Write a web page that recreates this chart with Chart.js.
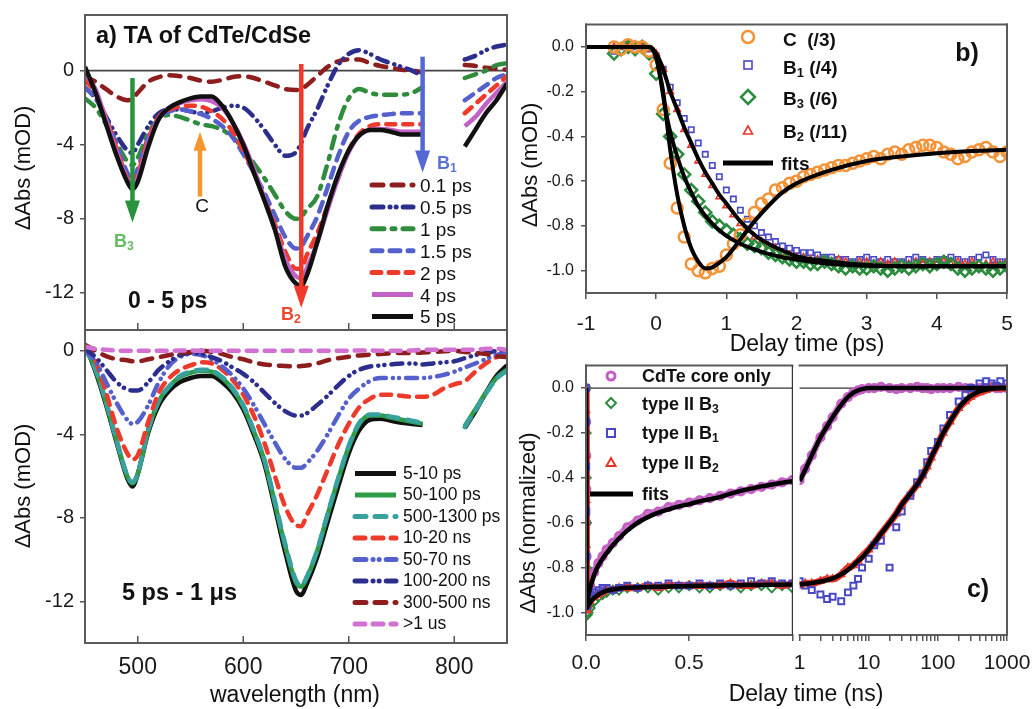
<!DOCTYPE html>
<html><head><meta charset="utf-8">
<script src="https://cdn.jsdelivr.net/npm/chart.js@4.4.1/dist/chart.umd.min.js"></script>
<style>
html,body{margin:0;padding:0;background:#fff;}
body{width:1034px;height:709px;position:relative;overflow:hidden;font-family:"Liberation Sans",Arial,Helvetica,sans-serif;color:#111;}
canvas{position:absolute;}
.t{position:absolute;white-space:pre;line-height:1;transform:translateY(-50%);}
.cc{transform:translate(-50%,-50%);}
.rot{transform:translate(-50%,-50%) rotate(-90deg);}
.b{font-weight:bold;}
sub{font-size:68%;vertical-align:-0.28em;line-height:0;}
#ov{position:absolute;left:0;top:0;}
</style></head><body>
<canvas id="cA1"></canvas><canvas id="cA2"></canvas><canvas id="cB"></canvas><canvas id="cC1"></canvas><canvas id="cC2"></canvas>
<svg id="ov" width="1034" height="709"></svg>
<script>
// ---------------- DATA ----------------
// Panel a: wavelengths (nm)
const WL = [450,460,470,480,490,495,500,510,520,530,540,550,560,570,580,590,600,610,620,630,640,650,655,660,670,680,690,700,710,720,730,740,750,760,770,780,790,800,810,820,830,840,850];
// top (0-5 ps) spectra, mOD
const A_0p1 = [-0.3,-0.6,-1.0,-1.4,-1.6,-1.5,-1.2,-0.6,-0.35,-0.25,-0.3,-0.4,-0.55,-0.6,-0.5,-0.35,-0.3,-0.4,-0.6,-0.8,-1.0,-1.05,-1.0,-0.8,-0.3,0.2,0.5,0.6,0.6,0.4,0.25,0.15,0.05,0.0,-0.1,null,null,null,0.3,0.25,0.15,0.1,0.05];
const A_0p5 = [-0.9,-1.5,-2.5,-3.5,-4.3,-4.45,-4.0,-3.0,-2.3,-2.1,-2.1,-2.2,-2.3,-2.2,-2.0,-1.9,-2.0,-2.5,-3.2,-4.0,-4.6,-4.4,-3.9,-3.2,-2.1,-0.8,0.3,0.9,1.1,0.9,0.6,0.4,0.2,0.0,-0.3,null,null,null,0.6,0.8,1.1,1.3,1.4];
const A_1 = [-1.5,-2.0,-2.9,-3.9,-4.9,-5.1,-4.7,-3.4,-2.6,-2.4,-2.5,-2.7,-2.9,-3.0,-3.2,-3.6,-4.2,-5.0,-5.8,-6.7,-7.6,-8.0,-7.9,-7.5,-6.8,-5.0,-2.9,-1.5,-1.0,-1.2,-1.3,-1.3,-1.3,-1.2,-0.9,null,null,null,-0.4,-0.2,0.0,0.3,0.4];
const A_1p5 = [-0.9,-1.5,-2.6,-4.0,-5.5,-5.9,-5.3,-3.6,-2.6,-2.2,-2.1,-2.2,-2.35,-2.6,-3.0,-3.6,-4.5,-5.5,-6.6,-7.8,-9.0,-9.6,-9.5,-9.0,-7.9,-6.3,-4.6,-3.3,-2.7,-2.5,-2.4,-2.35,-2.3,-2.3,-2.3,null,null,null,-1.6,-1.2,-0.8,-0.4,-0.2];
const A_2 = [-0.5,-1.2,-2.6,-4.2,-5.8,-6.2,-5.6,-3.7,-2.5,-2.1,-1.95,-1.9,-1.95,-2.2,-2.6,-3.3,-4.3,-5.5,-6.9,-8.3,-9.8,-10.7,-10.7,-10.0,-8.8,-7.3,-5.8,-4.3,-3.4,-3.0,-2.9,-2.9,-2.9,-2.9,-2.9,null,null,null,-2.3,-1.8,-1.3,-0.8,-0.3];
const A_4 = [-0.2,-1.0,-2.7,-4.4,-5.9,-6.3,-5.8,-3.9,-2.6,-2.0,-1.75,-1.6,-1.55,-1.65,-2.0,-2.8,-3.9,-5.3,-6.9,-8.5,-10.2,-11.1,-11.2,-10.7,-9.3,-7.5,-5.8,-4.4,-3.5,-3.2,-3.15,-3.2,-3.3,-3.3,-3.3,null,null,null,-3.0,-2.5,-1.8,-1.2,-0.6];
const A_5 = [0.2,-1.2,-2.9,-4.6,-6.0,-6.4,-6.0,-4.1,-2.6,-2.0,-1.7,-1.5,-1.4,-1.4,-1.9,-2.8,-4.0,-5.5,-7.0,-8.6,-10.6,-11.5,-11.6,-11.1,-9.3,-7.3,-5.6,-4.3,-3.5,-3.2,-3.2,-3.3,-3.45,-3.45,-3.45,null,null,null,-4.1,-3.2,-2.3,-1.6,-0.7];
// bottom (5 ps - 1 us) spectra, mOD
const L_5_10ps = [0.3,-1.0,-2.6,-4.4,-6.1,-6.5,-5.9,-3.9,-2.6,-1.9,-1.5,-1.3,-1.2,-1.2,-1.5,-2.0,-2.8,-4.0,-5.4,-7.5,-9.7,-11.5,-11.7,-11.2,-9.9,-8.2,-6.5,-4.9,-3.8,-3.3,-3.25,-3.35,-3.45,-3.5,-3.55,null,null,null,-3.7,-2.9,-2.0,-1.2,-0.7];
const L_50_100ps = [0.2,-0.9,-2.5,-4.3,-6.0,-6.35,-5.9,-3.8,-2.4,-1.7,-1.25,-1.05,-0.95,-1.0,-1.3,-1.85,-2.65,-3.85,-5.25,-7.3,-9.4,-11.1,-11.3,-10.9,-9.6,-7.85,-6.15,-4.6,-3.5,-3.1,-3.1,-3.2,-3.3,-3.4,-3.5,null,null,null,-3.6,-2.8,-2.0,-1.3,-0.9];
const L_500_1300ps = [0.15,-0.9,-2.45,-4.3,-5.95,-6.3,-5.85,-3.75,-2.4,-1.7,-1.2,-1.0,-0.9,-0.95,-1.25,-1.8,-2.6,-3.8,-5.2,-7.2,-9.3,-11.0,-11.25,-10.85,-9.55,-7.8,-6.1,-4.55,-3.45,-3.05,-3.05,-3.15,-3.25,-3.35,-3.45,null,null,null,-3.65,-2.85,-2.05,-1.35,-0.95];
const L_10_20ns = [0.2,-0.5,-2.0,-3.7,-4.9,-5.2,-5.0,-3.4,-2.0,-1.3,-0.9,-0.7,-0.55,-0.6,-0.9,-1.4,-2.1,-3.1,-4.4,-6.0,-7.5,-8.35,-8.4,-7.9,-6.9,-5.7,-4.5,-3.5,-2.7,-2.3,-2.1,-2.1,-2.15,-2.2,-2.2,-2.1,-1.8,-1.6,-1.45,-1.0,-0.6,-0.3,-0.1];
const L_50_70ns = [0.0,-0.5,-1.5,-2.5,-3.3,-3.5,-3.4,-2.6,-1.5,-0.7,-0.3,-0.15,-0.2,-0.4,-0.75,-1.2,-1.8,-2.6,-3.5,-4.4,-5.2,-5.6,-5.6,-5.4,-4.8,-4.0,-3.1,-2.3,-1.8,-1.45,-1.3,-1.3,-1.3,-1.3,-1.3,-1.25,-1.15,-1.0,-0.8,-0.6,-0.4,-0.2,-0.05];
const L_100_200ns = [0.1,-0.3,-0.9,-1.5,-1.85,-1.9,-1.9,-1.5,-0.9,-0.5,-0.2,-0.1,-0.15,-0.3,-0.5,-0.8,-1.1,-1.5,-2.0,-2.5,-2.9,-3.1,-3.1,-3.0,-2.6,-2.15,-1.65,-1.2,-0.9,-0.75,-0.7,-0.65,-0.6,-0.6,-0.65,-0.6,-0.55,-0.5,-0.35,-0.2,-0.1,0.0,0.05];
const L_300_500ns = [0.3,0.0,-0.25,-0.4,-0.45,-0.5,-0.5,-0.4,-0.3,-0.2,-0.1,-0.05,0.0,-0.05,-0.15,-0.3,-0.4,-0.55,-0.65,-0.7,-0.72,-0.75,-0.73,-0.7,-0.6,-0.45,-0.35,-0.28,-0.22,-0.18,-0.15,-0.12,-0.1,-0.1,-0.08,-0.05,-0.02,0.0,-0.05,-0.1,-0.15,-0.25,-0.3];
const L_gt1us = [0.2,0.1,0.05,0.02,0.0,0.0,0.0,0.0,0.0,0.0,0.02,0.02,0.0,0.0,0.0,0.0,0.0,0.0,0.0,0.0,0.0,0.0,0.0,0.0,0.0,0.0,0.0,0.0,0.02,0.02,0.0,0.0,0.0,0.02,0.05,0.05,0.05,0.05,0.05,0.05,0.1,0.1,0.05];
const A_X_TICKS = [500,600,700,800];
const A_X_LABELS = ['500','600','700','800'];
const A_Y_TICKS = [0,-4,-8,-12];
const A_Y_LABELS = ['0','-4','-8','-12'];

// Panel b: delay time (ps)
const T_B = [-0.6,-0.5,-0.4,-0.3,-0.2,-0.1,0.0,0.1,0.2,0.3,0.4,0.5,0.6,0.7,0.8,0.9,1.0,1.1,1.2,1.3,1.4,1.5,1.6,1.7,1.8,1.9,2.0,2.1,2.2,2.3,2.4,2.5,2.6,2.7,2.8,2.9,3.0,3.1,3.2,3.3,3.4,3.5,3.6,3.7,3.8,3.9,4.0,4.1,4.2,4.3,4.4,4.5,4.6,4.7,4.8,4.9,5.0];
const B_C = [0.0,-0.01,0.01,0.0,0.0,-0.02,-0.08,-0.28,-0.52,-0.72,-0.85,-0.97,-1.0,-1.01,-0.99,-0.98,-0.93,-0.88,-0.84,-0.79,-0.74,-0.7,-0.68,-0.64,-0.63,-0.61,-0.6,-0.58,-0.57,-0.56,-0.55,-0.54,-0.53,-0.53,-0.52,-0.51,-0.5,-0.49,-0.5,-0.48,-0.47,-0.48,-0.46,-0.45,-0.44,-0.44,-0.45,-0.47,-0.48,-0.5,-0.49,-0.47,-0.46,-0.45,-0.47,-0.49,-0.47];
const B_B1 = [-0.02,0.0,0.01,0.0,0.0,-0.01,-0.04,-0.1,-0.18,-0.25,-0.32,-0.37,-0.43,-0.48,-0.53,-0.58,-0.64,-0.68,-0.73,-0.77,-0.8,-0.83,-0.85,-0.87,-0.89,-0.9,-0.91,-0.92,-0.92,-0.93,-0.94,-0.94,-0.95,-0.95,-0.96,-0.95,-0.94,-0.95,-0.96,-0.95,-0.96,-0.96,-0.95,-0.94,-0.95,-0.96,-0.95,-0.95,-0.94,-0.95,-0.96,-0.95,-0.94,-0.93,-0.95,-0.96,-0.96];
const B_B3 = [-0.03,-0.01,0.0,-0.01,0.0,-0.03,-0.12,-0.3,-0.4,-0.48,-0.57,-0.64,-0.69,-0.74,-0.78,-0.8,-0.82,-0.84,-0.86,-0.88,-0.89,-0.9,-0.92,-0.93,-0.94,-0.95,-0.96,-0.96,-0.97,-0.97,-0.96,-0.97,-0.98,-0.99,-0.98,-0.99,-0.99,-0.98,-0.99,-1.0,-0.99,-0.98,-0.99,-0.98,-0.97,-0.98,-0.97,-0.96,-0.97,-0.99,-1.0,-0.99,-0.98,-0.99,-1.0,-0.99,-0.98];
const B_B2 = [0.0,0.0,0.0,0.01,0.0,-0.01,-0.03,-0.1,-0.2,-0.28,-0.37,-0.44,-0.51,-0.57,-0.62,-0.67,-0.71,-0.75,-0.79,-0.82,-0.85,-0.87,-0.89,-0.9,-0.92,-0.93,-0.94,-0.94,-0.95,-0.95,-0.96,-0.96,-0.95,-0.96,-0.97,-0.96,-0.96,-0.97,-0.96,-0.97,-0.96,-0.97,-0.97,-0.96,-0.97,-0.96,-0.97,-0.96,-0.97,-0.96,-0.97,-0.96,-0.97,-0.97,-0.96,-0.97,-0.96];
const TF_B = [-1,-0.5,-0.2,-0.1,-0.05,0,0.05,0.1,0.15,0.2,0.3,0.4,0.5,0.6,0.7,0.8,0.9,1.0,1.2,1.4,1.6,1.8,2.0,2.5,3.0,3.5,4.0,4.5,5.0];
const FIT_C = [0,0,0,0,-0.01,-0.05,-0.12,-0.2,-0.33,-0.46,-0.66,-0.8,-0.9,-0.96,-0.99,-0.985,-0.965,-0.94,-0.86,-0.78,-0.71,-0.65,-0.61,-0.55,-0.51,-0.49,-0.475,-0.465,-0.46];
const FIT_B3 = [0,0,0,0,-0.01,-0.04,-0.12,-0.22,-0.31,-0.38,-0.49,-0.58,-0.65,-0.71,-0.755,-0.79,-0.82,-0.845,-0.88,-0.905,-0.925,-0.94,-0.95,-0.97,-0.978,-0.98,-0.98,-0.98,-0.98];
const FIT_B12 = [0,0,0,0,-0.01,-0.03,-0.06,-0.1,-0.15,-0.2,-0.28,-0.36,-0.43,-0.5,-0.56,-0.61,-0.66,-0.7,-0.78,-0.84,-0.88,-0.91,-0.935,-0.96,-0.975,-0.98,-0.98,-0.98,-0.98];
const B_X_TICKS = [-1,0,1,2,3,4,5];
const B_X_LABELS = ['-1','0','1','2','3','4','5'];
const BC_Y_TICKS = [0,-0.2,-0.4,-0.6,-0.8,-1.0];
const BC_Y_LABELS = ['0.0','-0.2','-0.4','-0.6','-0.8','-1.0'];

// Panel c: delay time (ns), linear part 0-1 ns and log part 1-1000 ns
const CT_LIN = [0,0.0005,0.001,0.0015,0.002,0.0025,0.003,0.004,0.006,0.01,0.02,0.04,0.06,0.08,0.1,0.13,0.16,0.2,0.25,0.3,0.35,0.4,0.45,0.5,0.55,0.6,0.65,0.7,0.75,0.8,0.85,0.9,0.95,1.0];
const C_CORE_LIN = [0,-0.15,-0.3,-0.45,-0.6,-0.75,-0.88,-0.95,-0.96,-0.93,-0.88,-0.82,-0.78,-0.75,-0.72,-0.69,-0.66,-0.62,-0.59,-0.56,-0.55,-0.53,-0.52,-0.51,-0.5,-0.49,-0.48,-0.47,-0.46,-0.45,-0.44,-0.43,-0.42,-0.41];
const C_B3_LIN = [0,-0.2,-0.4,-0.6,-0.8,-0.92,-0.98,-1.0,-1.01,-1.0,-0.98,-0.95,-0.93,-0.92,-0.91,-0.9,-0.9,-0.89,-0.89,-0.89,-0.9,-0.89,-0.89,-0.88,-0.89,-0.89,-0.88,-0.88,-0.89,-0.88,-0.88,-0.89,-0.88,-0.89];
const C_B1_LIN = [0,-0.15,-0.35,-0.55,-0.75,-0.9,-0.95,-0.97,-0.97,-0.95,-0.92,-0.91,-0.9,-0.89,-0.89,-0.9,-0.89,-0.88,-0.89,-0.88,-0.88,-0.87,-0.88,-0.88,-0.87,-0.88,-0.87,-0.88,-0.87,-0.86,-0.87,-0.86,-0.87,-0.87];
const C_B2_LIN = [0,-0.1,-0.3,-0.5,-0.7,-0.88,-0.96,-0.99,-0.99,-0.97,-0.95,-0.93,-0.92,-0.91,-0.9,-0.9,-0.89,-0.89,-0.89,-0.88,-0.89,-0.88,-0.88,-0.88,-0.88,-0.88,-0.88,-0.87,-0.88,-0.88,-0.87,-0.87,-0.88,-0.87];
const FIT_CORE_LIN = [0,-0.2,-0.4,-0.6,-0.8,-0.9,-0.95,-0.96,-0.95,-0.93,-0.89,-0.83,-0.79,-0.76,-0.735,-0.7,-0.67,-0.635,-0.6,-0.575,-0.555,-0.54,-0.527,-0.517,-0.505,-0.495,-0.485,-0.47,-0.458,-0.448,-0.438,-0.43,-0.422,-0.415];
const FIT_II_LIN = [0,-0.2,-0.4,-0.6,-0.8,-0.93,-0.97,-0.98,-0.975,-0.97,-0.955,-0.935,-0.92,-0.91,-0.903,-0.897,-0.893,-0.89,-0.888,-0.886,-0.885,-0.884,-0.883,-0.882,-0.881,-0.88,-0.879,-0.878,-0.878,-0.877,-0.877,-0.876,-0.876,-0.875];
const CT_LOG = [1,1.2,1.5,2,2.5,3,4,5,6,7,8,10,12,15,20,25,30,40,50,60,70,80,100,120,150,200,250,300,400,500,600,700,800,1000];
const C_CORE_LOG = [-0.41,-0.36,-0.3,-0.22,-0.17,-0.13,-0.07,-0.04,-0.02,-0.01,-0.005,0.0,0.0,0.005,0.0,-0.005,0.0,0.0,0.005,0.0,0.0,-0.005,0.0,0.0,0.0,0.005,0.0,0.0,0.0,0.0,0.005,0.0,0.0,0.0];
const C_B1_LOG = [-0.86,-0.88,-0.9,-0.92,-0.94,-0.93,-0.95,-0.91,-0.88,-0.85,-0.8,-0.76,-0.7,-0.68,-0.8,-0.62,-0.55,-0.48,-0.42,-0.38,-0.33,-0.28,-0.24,-0.18,-0.12,-0.06,-0.03,0.0,0.02,0.03,0.02,0.01,0.03,0.02];
const C_B2_LOG = [-0.88,-0.87,-0.87,-0.86,-0.85,-0.85,-0.83,-0.8,-0.79,-0.77,-0.75,-0.72,-0.69,-0.65,-0.6,-0.56,-0.52,-0.47,-0.43,-0.39,-0.35,-0.31,-0.25,-0.2,-0.15,-0.09,-0.06,-0.04,-0.02,-0.01,0.0,0.0,0.0,0.0];
const FIT_CORE_LOG = [-0.415,-0.365,-0.3,-0.22,-0.17,-0.13,-0.075,-0.04,-0.02,-0.01,-0.005,0,0,0,0,0,0,0,0,0,0,0,0,0,0,0,0,0,0,0,0,0,0,0];
const FIT_II_LOG = [-0.875,-0.872,-0.868,-0.862,-0.855,-0.848,-0.83,-0.81,-0.79,-0.77,-0.755,-0.72,-0.69,-0.65,-0.6,-0.56,-0.52,-0.47,-0.43,-0.39,-0.35,-0.31,-0.25,-0.2,-0.15,-0.09,-0.055,-0.035,-0.015,-0.007,-0.003,-0.001,0,0];
const C_LIN_TICKS = [0,0.5,1];
const C_LIN_LABELS = ['0.0','0.5',''];
const C_LOG_TICKS = [1,10,100,1000];
const C_LOG_LABELS = ['1','10','100','1000'];

// ---------------- STYLES ----------------
const FONT = '"Liberation Sans", Arial, Helvetica, sans-serif';
Chart.defaults.font.family = FONT;
Chart.defaults.color = '#1a1a1a';

const TOP_SERIES = [
  {name:'0.1 ps', v:A_0p1, c:'#8E1D1D', w:4.5, d:[11,9]},
  {name:'0.5 ps', v:A_0p5, c:'#2C2E8E', w:4.5, d:[11,7,0.1,6,0.1,7]},
  {name:'1 ps',   v:A_1,   c:'#2E8C3C', w:4.5, d:[12,8,3,8]},
  {name:'1.5 ps', v:A_1p5, c:'#5461CC', w:4.5, d:[10,8]},
  {name:'2 ps',   v:A_2,   c:'#EE3A2A', w:4.5, d:[9,8]},
  {name:'4 ps',   v:A_4,   c:'#C262C6', w:4.5, d:[]},
  {name:'5 ps',   v:A_5,   c:'#111111', w:4.5, d:[]}
];
const BOT_SERIES = [
  {name:'5-10 ps',     v:L_5_10ps,     c:'#111111', w:4.5, d:[]},
  {name:'50-100 ps',   v:L_50_100ps,   c:'#2E9B46', w:4.5, d:[]},
  {name:'500-1300 ps', v:L_500_1300ps, c:'#37A19E', w:4.5, d:[11,9]},
  {name:'10-20 ns',    v:L_10_20ns,    c:'#EE3A2A', w:4.5, d:[10,8]},
  {name:'50-70 ns',    v:L_50_70ns,    c:'#5461CC', w:4.5, d:[11,7,0.1,6,0.1,7]},
  {name:'100-200 ns',  v:L_100_200ns,  c:'#2C2E8E', w:4.5, d:[11,7,0.1,6,0.1,7]},
  {name:'300-500 ns',  v:L_300_500ns,  c:'#8E1D1D', w:4.5, d:[11,9]},
  {name:'>1 us',       v:L_gt1us,      c:'#D271D2', w:4.5, d:[10,8]}
];
const COL = {C:'#F39237', B1:'#4848C4', B3:'#2A8C3C', B2:'#E8362A', core:'#C45FC4', fit:'#000'};

// ---------------- HELPERS ----------------
const pts = (xs, ys) => xs.map((x, i) => ({x: x, y: ys[i]}));

function decor(cfg) {
  return {
    id: 'decor',
    beforeDatasetsDraw(chart) {
      const {ctx, chartArea: a, scales} = chart;
      (cfg.hlines || []).forEach(h => {
        const y = scales.y.getPixelForValue(h.v);
        ctx.save(); ctx.strokeStyle = h.c; ctx.lineWidth = h.w;
        ctx.beginPath(); ctx.moveTo(a.left, y); ctx.lineTo(a.right, y); ctx.stroke(); ctx.restore();
      });
    },
    afterDatasetsDraw(chart) {
      const {ctx, chartArea: a, scales} = chart;
      ctx.save();
      (cfg.arrows || []).forEach(ar => {
        const x = scales.x.getPixelForValue(ar.x);
        const y1 = scales.y.getPixelForValue(ar.from);
        const y2 = scales.y.getPixelForValue(ar.to);
        const dir = Math.sign(y2 - y1), hl = ar.hl || 22, hw = ar.hw || 7.5;
        ctx.strokeStyle = ar.c; ctx.fillStyle = ar.c; ctx.lineWidth = ar.w || 4.5; ctx.lineCap = 'butt';
        ctx.beginPath(); ctx.moveTo(x, y1); ctx.lineTo(x, y2 - dir * hl + dir); ctx.stroke();
        ctx.beginPath(); ctx.moveTo(x - hw, y2 - dir * hl); ctx.lineTo(x + hw, y2 - dir * hl); ctx.lineTo(x, y2); ctx.closePath(); ctx.fill();
      });
      if (cfg.inner) {
        ctx.strokeStyle = '#555'; ctx.lineWidth = 1.5;
        cfg.inner.forEach(v => {
          const x = scales.x.getPixelForValue(v);
          ctx.beginPath(); ctx.moveTo(x, a.bottom); ctx.lineTo(x, a.bottom - 7); ctx.stroke();
        });
      }
      const seg = (x1, y1, x2, y2) => { ctx.beginPath(); ctx.moveTo(x1, y1); ctx.lineTo(x2, y2); ctx.stroke(); };
      ctx.strokeStyle = '#5a5a5a'; ctx.lineWidth = 2; ctx.lineCap = 'square';
      const s = cfg.sides || 'ltrb';
      if (s.includes('t')) seg(a.left, a.top, a.right, a.top);
      if (s.includes('b')) seg(a.left, a.bottom, a.right, a.bottom);
      if (s.includes('l')) seg(a.left, a.top, a.left, a.bottom);
      if (s.includes('r')) seg(a.right, a.top, a.right, a.bottom);
      if (cfg.thinRight) { ctx.strokeStyle = '#333'; ctx.lineWidth = 1.2; ctx.lineCap = 'butt'; seg(a.right, a.top, a.right, a.bottom); }
      ctx.restore();
    }
  };
}

function yScale(o) {
  return {
    type: 'linear', min: o.min, max: o.max, display: o.display !== false,
    afterBuildTicks: s => { s.ticks = o.ticks.map(v => ({value: v})); },
    afterFit: s => { s.width = o.w; s.paddingTop = 0; s.paddingBottom = 0; },
    ticks: {padding: o.pad, color: '#1a1a1a', font: {size: o.fs}, callback: (v, i) => o.labels[i]},
    grid: {drawOnChartArea: false, drawTicks: true, tickLength: 5, color: '#555', lineWidth: 1.5},
    border: {display: false}
  };
}
function xScale(o) {
  return {
    type: o.type || 'linear', min: o.min, max: o.max, position: 'bottom',
    afterBuildTicks: s => { s.ticks = o.ticks.map(v => ({value: v})); },
    afterFit: s => { s.height = o.h; s.paddingLeft = 0; s.paddingRight = 0; },
    ticks: {display: o.show !== false, autoSkip: false, maxRotation: 0, minRotation: 0, padding: o.pad, color: '#1a1a1a', font: {size: o.fs}, callback: (v, i) => o.fmt(v, i)},
    grid: {drawOnChartArea: false, drawTicks: o.drawTicks !== false, tickLength: 6, color: '#555', lineWidth: 1.5},
    border: {display: false}
  };
}

function makeChart(id, g, datasets, scales, deco) {
  const cv = document.getElementById(id);
  const w = g.padL + g.yw + g.pw + g.padR, h = g.padT + g.ph + g.xh + g.padB;
  cv.width = w; cv.height = h;
  cv.style.left = (g.pl - g.yw - g.padL) + 'px';
  cv.style.top = (g.pt - g.padT) + 'px';
  cv.style.width = w + 'px'; cv.style.height = h + 'px';
  return new Chart(cv, {
    type: 'scatter',
    data: {datasets},
    options: {
      responsive: false, animation: false, devicePixelRatio: 1, events: [],
      layout: {padding: {left: g.padL, top: g.padT, right: g.padR, bottom: g.padB}},
      plugins: {legend: {display: false}, tooltip: {enabled: false}},
      scales
    },
    plugins: [decor(deco)]
  });
}

function lineSet(s, i, n, xs) {
  return {
    label: s.name, data: pts(xs, s.v), showLine: true, pointRadius: 0,
    borderColor: s.c, borderWidth: s.w, borderDash: s.d, borderCapStyle: s.d.length ? 'round' : 'butt',
    borderJoinStyle: 'round', cubicInterpolationMode: 'monotone', spanGaps: false, order: n - i
  };
}

// ---------------- PANEL a ----------------
makeChart('cA1', {pl:85, pt:15, pw:422, ph:315, yw:50, xh:0, padL:2, padT:4, padR:4, padB:3},
  TOP_SERIES.map((s, i) => lineSet(s, i, TOP_SERIES.length, WL)),
  {
    x: xScale({min:450, max:850, ticks:A_X_TICKS, h:0, pad:0, fs:22, show:false, drawTicks:false, fmt:(v,i)=>''}),
    y: yScale({min:-14, max:3, ticks:A_Y_TICKS, labels:A_Y_LABELS, w:50, pad:6, fs:20})
  },
  {hlines:[{v:0, c:'#444', w:1.6}], inner:A_X_TICKS,
   arrows:[{x:495, from:-0.4, to:-8.2, c:'#27933F'}, {x:559, from:-6.8, to:-3.3, c:'#F5962E', hl:19, hw:6.5},
           {x:655, from:0.35, to:-12.8, c:'#F0392B'}, {x:770, from:0.75, to:-5.5, c:'#5468D4'}]});

makeChart('cA2', {pl:85, pt:330, pw:422, ph:313, yw:50, xh:46, padL:2, padT:2, padR:20, padB:2},
  BOT_SERIES.map((s, i) => lineSet(s, i, BOT_SERIES.length, WL)),
  {
    x: xScale({min:450, max:850, ticks:A_X_TICKS, h:46, pad:11, fs:23, drawTicks:false, fmt:(v,i)=>A_X_LABELS[i]}),
    y: yScale({min:-14, max:1, ticks:A_Y_TICKS, labels:A_Y_LABELS, w:50, pad:6, fs:20})
  },
  {inner:A_X_TICKS});

// ---------------- PANEL b ----------------
const mk = (label, xs, ys, style, r, bw, c, ord) => ({label, data: pts(xs, ys), pointStyle: style, pointRadius: r, borderWidth: bw, pointBorderColor: c, borderColor: c, backgroundColor: 'rgba(0,0,0,0)', pointBackgroundColor: 'rgba(0,0,0,0)', order: ord});
const fit = (label, xs, ys, w) => ({label, data: pts(xs, ys), showLine: true, pointRadius: 0, borderColor: COL.fit, borderWidth: w || 4, cubicInterpolationMode: 'monotone', order: 0});

makeChart('cB', {pl:586, pt:20, pw:421, ph:273, yw:55, xh:48, padL:2, padT:4, padR:14, padB:2},
  [
    fit('fit C', TF_B, FIT_C), fit('fit B3', TF_B, FIT_B3), fit('fit B1 B2', TF_B, FIT_B12),
    mk('C (/3)', T_B, B_C, 'circle', 5.5, 2.5, COL.C, 2),
    mk('B3 (/6)', T_B, B_B3, 'rectRot', 6, 2.5, COL.B3, 3),
    mk('B2 (/11)', T_B, B_B2, 'triangle', 3.8, 1.6, COL.B2, 4),
    mk('B1 (/4)', T_B, B_B1, 'rect', 3.8, 1.6, COL.B1, 5)
  ],
  {
    x: xScale({min:-1, max:5, ticks:B_X_TICKS, h:48, pad:13, fs:21, fmt:(v,i)=>B_X_LABELS[i]}),
    y: yScale({min:-1.1, max:0.1, ticks:BC_Y_TICKS, labels:BC_Y_LABELS, w:55, pad:7, fs:16})
  }, {});

// ---------------- PANEL c ----------------
const band = (label, xs, ys, c, w, ord) => ({label, data: pts(xs, ys), showLine: true, pointRadius: 0, borderColor: c, borderWidth: w, cubicInterpolationMode: 'monotone', order: ord});
const cSets = (xs, core, b3, b1, b2, fcore, fii) => {
  const s = [
    fit('fit core', xs, fcore, 4.5), fit('fit type II', xs, fii, 4.5),
    mk('type II B1', xs, b1, 'rect', 4.2, 2, COL.B1, 2),
    mk('type II B2', xs, b2, 'triangle', 3.8, 1.8, COL.B2, 3),
    band('B2 band', xs, b2, COL.B2, 7, 4),
    mk('CdTe core only', xs, core, 'circle', 3.8, 2.6, COL.core, 6),
    band('core band', xs, core, '#CF76CF', 7, 7)
  ];
  if (b3) s.push(mk('type II B3', xs, b3, 'rectRot', 4.5, 2, COL.B3, 5));
  return s;
};
const LOG_MINOR = [2,3,4,5,6,7,8,9,20,30,40,50,60,70,80,90,200,300,400,500,600,700,800,900];
const C_LOG_ALL = C_LOG_TICKS.concat(LOG_MINOR).sort((a, b) => a - b);

makeChart('cC1', {pl:586, pt:363, pw:210, ph:272, yw:55, xh:46, padL:2, padT:4, padR:3, padB:2},
  cSets(CT_LIN, C_CORE_LIN, C_B3_LIN, C_B1_LIN, C_B2_LIN, FIT_CORE_LIN, FIT_II_LIN),
  {
    x: xScale({min:0, max:1, ticks:C_LIN_TICKS, h:46, pad:10, fs:21, fmt:(v,i)=>C_LIN_LABELS[i]}),
    y: yScale({min:-1.1, max:0.1, ticks:BC_Y_TICKS, labels:BC_Y_LABELS, w:55, pad:7, fs:16})
  },
  {sides:'ltb', thinRight:true, hlines:[{v:0, c:'#333', w:1.2}]});

makeChart('cC2', {pl:796, pt:363, pw:211, ph:272, yw:0, xh:46, padL:3, padT:4, padR:25, padB:2},
  cSets(CT_LOG, C_CORE_LOG, null, C_B1_LOG, C_B2_LOG, FIT_CORE_LOG, FIT_II_LOG),
  {
    x: xScale({type:'logarithmic', min:1, max:1000, ticks:C_LOG_ALL, h:46, pad:10, fs:21,
               fmt:(v,i)=>{ const k = C_LOG_TICKS.indexOf(C_LOG_ALL[i]); return k >= 0 ? C_LOG_LABELS[k] : ''; }}),
    y: yScale({min:-1.1, max:0.1, ticks:BC_Y_TICKS, labels:BC_Y_LABELS, w:0, pad:7, fs:16, display:false})
  },
  {sides:'trb', hlines:[{v:0, c:'#333', w:1.2}]});

// ---------------- TEXT & LEGENDS ----------------
const svg = document.getElementById('ov');
const NS = 'http://www.w3.org/2000/svg';
function sv(tag, attrs) { const e = document.createElementNS(NS, tag); for (const k in attrs) e.setAttribute(k, attrs[k]); svg.appendChild(e); return e; }
function txt(x, y, html, cls, style) {
  const d = document.createElement('div'); d.className = 't ' + (cls || '');
  d.style.left = x + 'px'; d.style.top = y + 'px'; Object.assign(d.style, style || {});
  d.innerHTML = html; document.body.appendChild(d); return d;
}
const esc = s => s.replace(/&/g,'&amp;').replace(/</g,'&lt;').replace(/>/g,'&gt;');

// panel a legends
function lineLegend(series, x1, x2, xt, y0, dy, fs) {
  series.forEach((s, i) => {
    const y = y0 + i * dy;
    sv('line', {x1, y1: y, x2, y2: y, stroke: s.c, 'stroke-width': 5, 'stroke-dasharray': s.d.length ? s.d.join(' ') : 'none', 'stroke-linecap': s.d.length ? 'round' : 'butt'});
    txt(xt, y, esc(s.name), '', {fontSize: fs + 'px'});
  });
}
lineLegend(TOP_SERIES, 372, 413, 420, 185, 21.9, 19);
lineLegend(BOT_SERIES, 355, 396, 403, 473.5, 21.5, 17.5);

// panel a titles / annotations
txt(96, 36, 'a) TA of CdTe/CdSe', 'b', {fontSize: '23.5px'});
txt(128, 300, '0 - 5 ps', 'b', {fontSize: '23px'});
txt(122, 593, '5 ps - 1 \u03bcs', 'b', {fontSize: '23.5px'});
txt(202, 205, 'C', 'cc', {fontSize: '19px'});
txt(124, 241, 'B<sub>3</sub>', 'cc b', {fontSize: '18px', color: '#63BC63'});
txt(291, 314, 'B<sub>2</sub>', 'cc b', {fontSize: '18px', color: '#F0472D'});
txt(447, 163, 'B<sub>1</sub>', 'cc b', {fontSize: '18px', color: '#5A72D6'});
txt(23, 168, '\u0394Abs (mOD)', 'rot', {fontSize: '22px'});
txt(23, 486, '\u0394Abs (mOD)', 'rot', {fontSize: '22px'});
txt(295, 694, 'wavelength (nm)', 'cc', {fontSize: '23px'});

// panel b
sv('circle', {cx: 748, cy: 37, r: 6, fill: 'none', stroke: COL.C, 'stroke-width': 2.5});
sv('rect', {x: 744, y: 61, width: 8, height: 8, fill: 'none', stroke: COL.B1, 'stroke-width': 1.6});
sv('polygon', {points: '748,90 755,97 748,104 741,97', fill: 'none', stroke: COL.B3, 'stroke-width': 2.5});
sv('polygon', {points: '748,126 752.5,134 743.5,134', fill: 'none', stroke: COL.B2, 'stroke-width': 1.6});
sv('line', {x1: 723, y1: 163, x2: 773, y2: 163, stroke: '#000', 'stroke-width': 5});
txt(783, 39, 'C  (/3)', 'b', {fontSize: '19px'});
txt(783, 67, 'B<sub>1</sub> (/4)', 'b', {fontSize: '19px'});
txt(783, 98, 'B<sub>3</sub> (/6)', 'b', {fontSize: '19px'});
txt(783, 131, 'B<sub>2</sub> (/11)', 'b', {fontSize: '19px'});
txt(781, 163, 'fits', 'b', {fontSize: '19px'});
txt(967, 52, 'b)', 'cc b', {fontSize: '25px'});
txt(530, 165, '\u0394Abs (mOD)', 'rot', {fontSize: '22px'});
txt(807, 343, 'Delay time (ps)', 'cc', {fontSize: '23px'});

// panel c
sv('circle', {cx: 611, cy: 376, r: 4, fill: 'none', stroke: COL.core, 'stroke-width': 3});
sv('polygon', {points: '611,398 616,403 611,408 606,403', fill: 'none', stroke: COL.B3, 'stroke-width': 2});
sv('rect', {x: 607, y: 429, width: 8, height: 8, fill: 'none', stroke: COL.B1, 'stroke-width': 2});
sv('polygon', {points: '611,458 615.5,466 606.5,466', fill: 'none', stroke: COL.B2, 'stroke-width': 2});
sv('line', {x1: 590, y1: 494, x2: 633, y2: 494, stroke: '#000', 'stroke-width': 5});
txt(642, 376, 'CdTe core only', 'b', {fontSize: '18px'});
txt(642, 404, 'type II B<sub>3</sub>', 'b', {fontSize: '18px'});
txt(642, 433, 'type II B<sub>1</sub>', 'b', {fontSize: '18px'});
txt(642, 463, 'type II B<sub>2</sub>', 'b', {fontSize: '18px'});
txt(642, 494, 'fits', 'b', {fontSize: '18px'});
txt(978, 588, 'c)', 'cc b', {fontSize: '25px'});
txt(528, 523, '\u0394Abs (normalized)', 'rot', {fontSize: '22px'});
txt(806, 693, 'Delay time (ns)', 'cc', {fontSize: '23px'});
</script></body></html>
